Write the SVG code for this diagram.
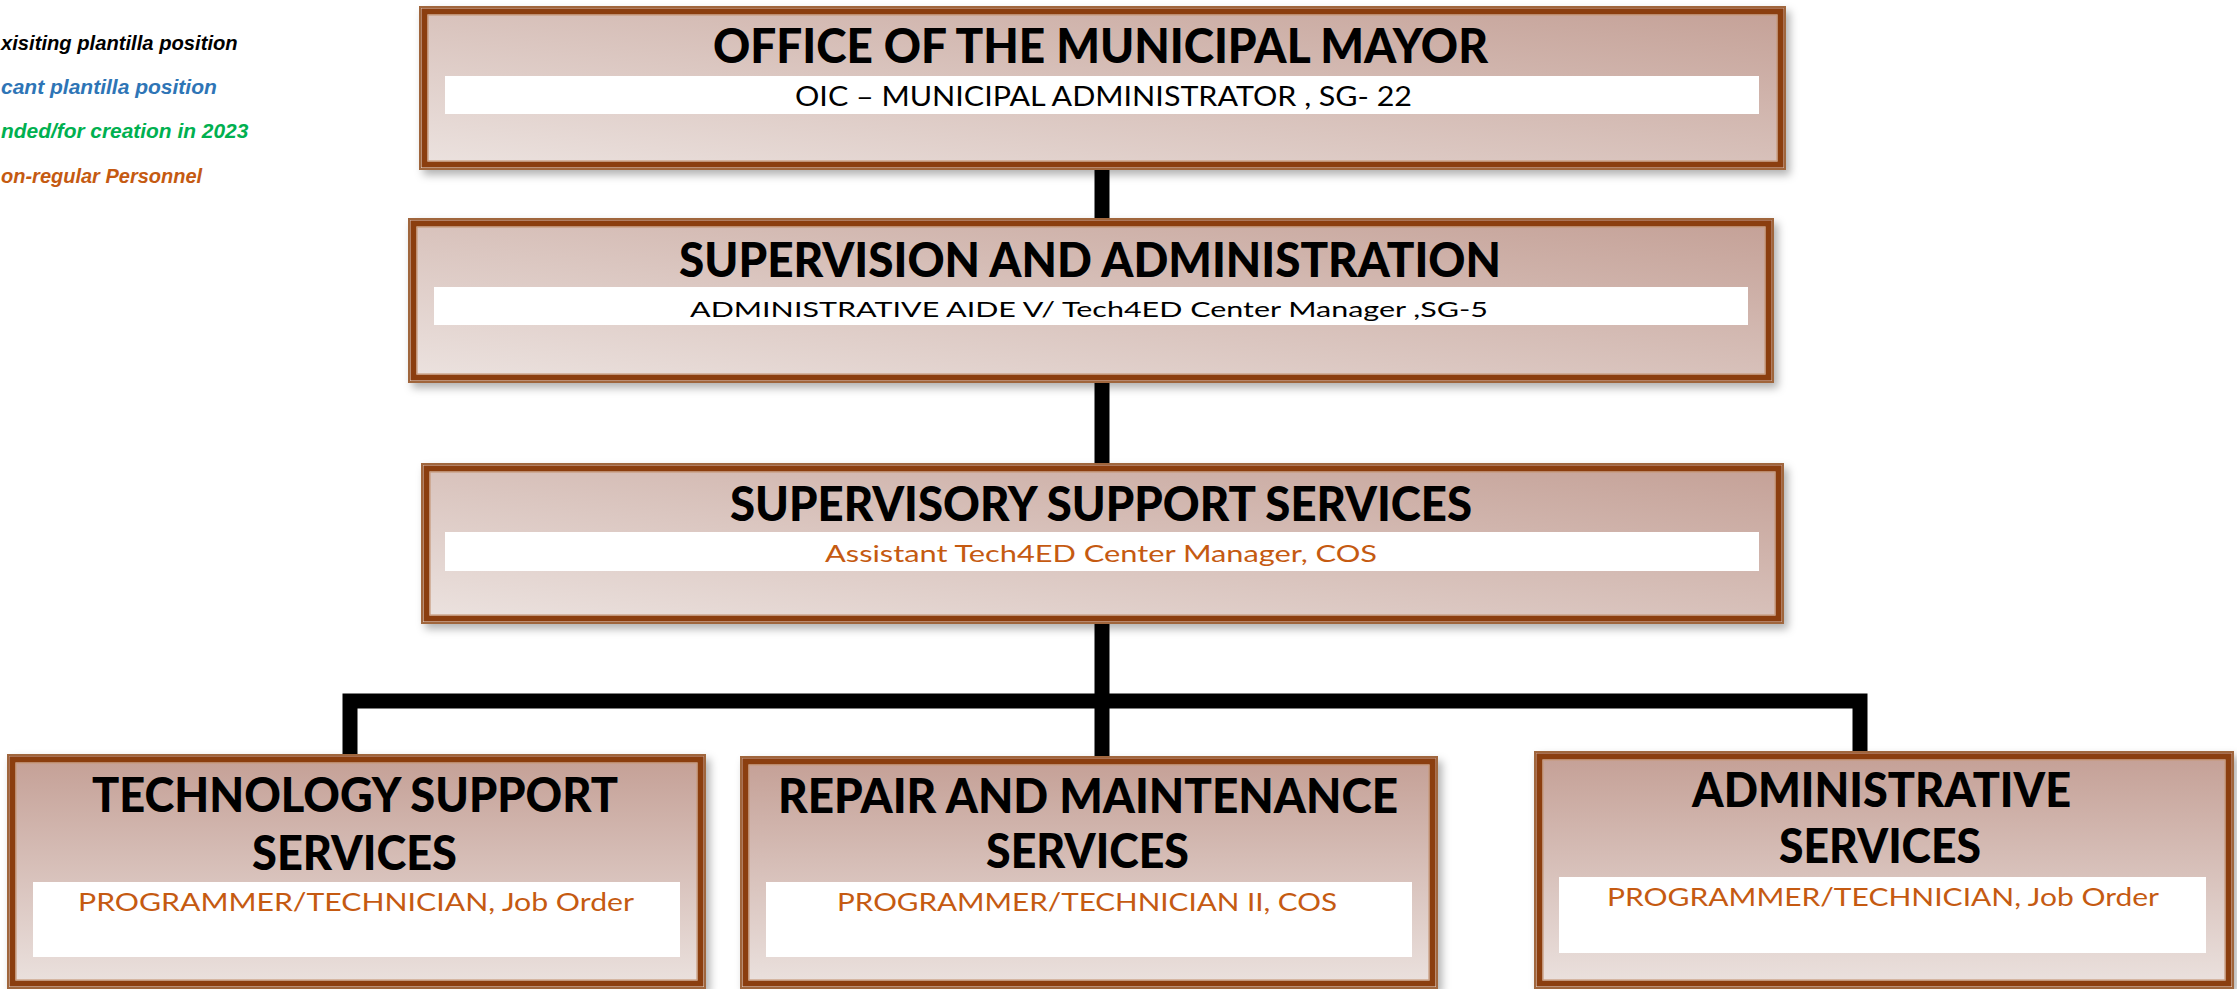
<svg xmlns="http://www.w3.org/2000/svg" width="2237" height="989" viewBox="0 0 2237 989">
<defs>
<linearGradient id="gTop" x1="0" y1="1" x2="1" y2="0">
<stop offset="0" stop-color="#ece3e0"/>
<stop offset="1" stop-color="#c4a096"/>
</linearGradient>
<linearGradient id="gBot" x1="0" y1="0" x2="0" y2="1">
<stop offset="0" stop-color="#c49f95"/>
<stop offset="1" stop-color="#ebe2df"/>
</linearGradient>
<filter id="sh" x="-5%" y="-10%" width="110%" height="125%">
<feDropShadow dx="4" dy="5" stdDeviation="4" flood-color="#000" flood-opacity="0.3"/>
</filter>
</defs>
<style>
.outer{stroke:#a0663e;stroke-width:2}
.band{fill:none;stroke:#8b3e0f;stroke-width:6}
.inner{fill:none;stroke:#c79a7c;stroke-width:1.2}
.white{fill:#ffffff}
.title{font-family:Lato,"Open Sans","DejaVu Sans",sans-serif;font-weight:900;font-size:47px;fill:#000;text-anchor:start}
.sub{font-family:Lato,"Open Sans","DejaVu Sans",sans-serif;font-weight:400;fill:#000}
.orange{fill:#c55a11}
.leg{font-family:"Liberation Sans",Arial,sans-serif;font-weight:bold;font-style:italic}
.conn{fill:none;stroke:#000;stroke-width:15;stroke-linejoin:miter;stroke-linecap:butt}
</style>
<rect width="2237" height="989" fill="#ffffff"/>

<g id="legend">
<text class="leg" x="1" y="50" font-size="20.2" fill="#000000">xisiting plantilla position</text>
<text class="leg" x="1" y="94" font-size="21" fill="#2e75b6">cant plantilla position</text>
<text class="leg" x="1" y="138" font-size="20.9" fill="#00b050">nded/for creation in 2023</text>
<text class="leg" x="1" y="183" font-size="20" fill="#c55a11">on-regular Personnel</text>
</g>

<g id="connectors">
<path class="conn" d="M1102,168 V220"/>
<path class="conn" d="M1102,381 V465"/>
<path class="conn" d="M1102,622 V758"/>
<path class="conn" d="M350,757 V701 H1860 V753"/>
</g>

<g id="office-mayor">
<rect class="outer" x="420" y="7" width="1365" height="162" fill="url(#gTop)" filter="url(#sh)"/>
<rect class="band" x="424.5" y="11.5" width="1356" height="153"/>
<rect class="inner" x="428" y="15" width="1349" height="146"/>
<rect class="white" x="445" y="76" width="1314" height="38"/>
<text class="title" x="713" y="63" textLength="775" lengthAdjust="spacingAndGlyphs">OFFICE OF THE MUNICIPAL MAYOR</text>
<text class="sub" x="795" y="106" font-size="26" textLength="617" lengthAdjust="spacingAndGlyphs">OIC – MUNICIPAL ADMINISTRATOR , SG- 22</text>
</g>

<g id="supervision-admin">
<rect class="outer" x="409" y="219" width="1364" height="163" fill="url(#gTop)" filter="url(#sh)"/>
<rect class="band" x="413.5" y="223.5" width="1355" height="154"/>
<rect class="inner" x="417" y="227" width="1348" height="147"/>
<rect class="white" x="434" y="287" width="1314" height="38"/>
<text class="title" x="679" y="277" textLength="822" lengthAdjust="spacingAndGlyphs">SUPERVISION AND ADMINISTRATION</text>
<text class="sub" x="690" y="317" font-size="22" textLength="798" lengthAdjust="spacingAndGlyphs">ADMINISTRATIVE AIDE V/ Tech4ED Center Manager ,SG-5</text>
</g>

<g id="supervisory-support">
<rect class="outer" x="422" y="464" width="1361" height="159" fill="url(#gTop)" filter="url(#sh)"/>
<rect class="band" x="426.5" y="468.5" width="1352" height="150"/>
<rect class="inner" x="430" y="472" width="1345" height="143"/>
<rect class="white" x="445" y="532" width="1314" height="39"/>
<text class="title" x="730" y="521" textLength="742" lengthAdjust="spacingAndGlyphs">SUPERVISORY SUPPORT SERVICES</text>
<text class="sub orange" x="825" y="562" font-size="24" textLength="552" lengthAdjust="spacingAndGlyphs">Assistant Tech4ED Center Manager, COS</text>
</g>

<g id="technology-support">
<rect class="outer" x="8" y="755" width="697" height="233" fill="url(#gBot)" filter="url(#sh)"/>
<rect class="band" x="12.5" y="759.5" width="688" height="224"/>
<rect class="inner" x="16" y="763" width="681" height="217"/>
<rect class="white" x="33" y="882" width="647" height="75"/>
<text class="title" x="92" y="812" textLength="526" lengthAdjust="spacingAndGlyphs">TECHNOLOGY SUPPORT</text>
<text class="title" x="252" y="870" textLength="205" lengthAdjust="spacingAndGlyphs">SERVICES</text>
<text class="sub orange" x="78" y="911" font-size="25" textLength="556" lengthAdjust="spacingAndGlyphs">PROGRAMMER/TECHNICIAN,  Job Order</text>
</g>

<g id="repair-maintenance">
<rect class="outer" x="741" y="757" width="696" height="231" fill="url(#gBot)" filter="url(#sh)"/>
<rect class="band" x="745.5" y="761.5" width="687" height="222"/>
<rect class="inner" x="749" y="765" width="680" height="215"/>
<rect class="white" x="766" y="882" width="646" height="75"/>
<text class="title" x="778" y="813" textLength="620" lengthAdjust="spacingAndGlyphs">REPAIR AND MAINTENANCE</text>
<text class="title" x="986" y="868" textLength="203" lengthAdjust="spacingAndGlyphs">SERVICES</text>
<text class="sub orange" x="837" y="911" font-size="25" textLength="500" lengthAdjust="spacingAndGlyphs">PROGRAMMER/TECHNICIAN II, COS</text>
</g>

<g id="administrative">
<rect class="outer" x="1535" y="752" width="698" height="236" fill="url(#gBot)" filter="url(#sh)"/>
<rect class="band" x="1539.5" y="756.5" width="689" height="227"/>
<rect class="inner" x="1543" y="760" width="682" height="220"/>
<rect class="white" x="1559" y="877" width="647" height="76"/>
<text class="title" x="1692" y="807" textLength="379" lengthAdjust="spacingAndGlyphs">ADMINISTRATIVE</text>
<text class="title" x="1779" y="863" textLength="202" lengthAdjust="spacingAndGlyphs">SERVICES</text>
<text class="sub orange" x="1607" y="906" font-size="25" textLength="552" lengthAdjust="spacingAndGlyphs">PROGRAMMER/TECHNICIAN,  Job Order</text>
</g>
</svg>
